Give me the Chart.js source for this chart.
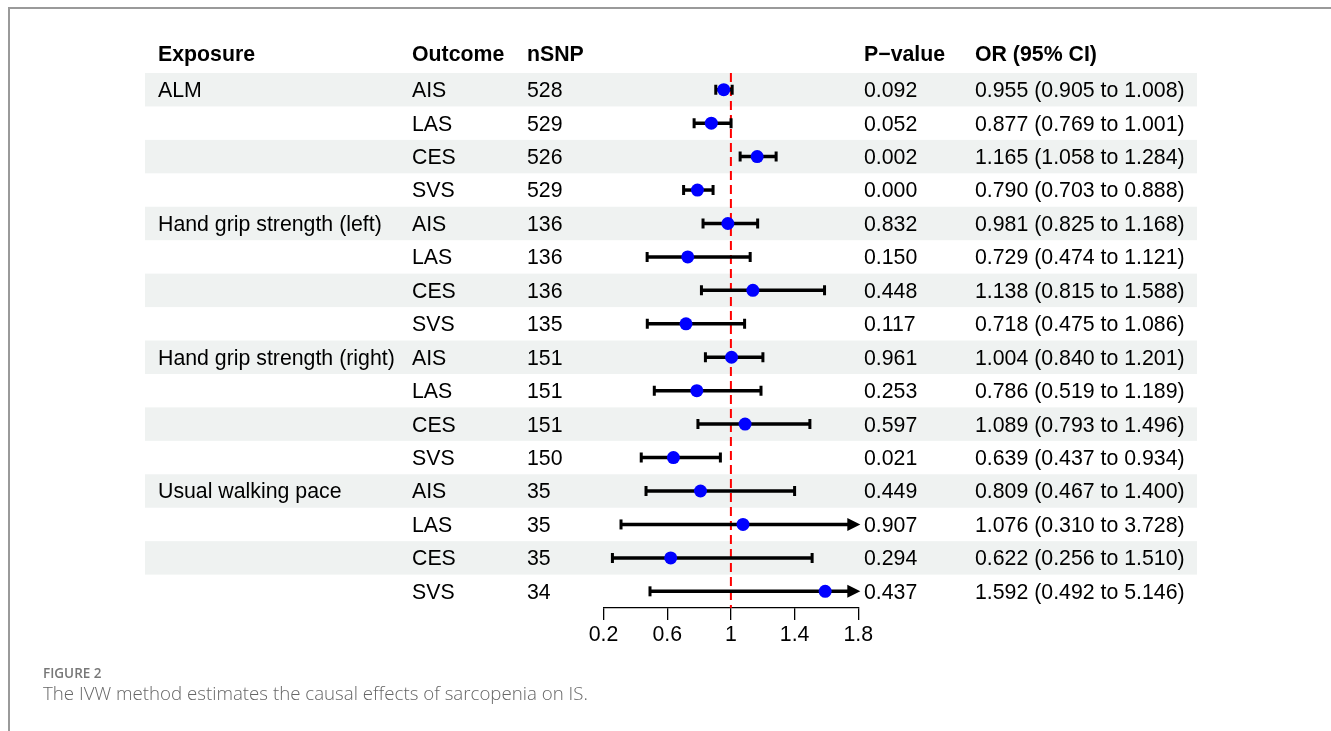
<!DOCTYPE html>
<html>
<head>
<meta charset="utf-8">
<title>IVW forest plot</title>
<script src="https://cdn.jsdelivr.net/npm/chart.js@4.4.1/dist/chart.umd.min.js"></script>
<style>
    html, body { margin: 0; padding: 0; background: #fff; }
    body { width: 1331px; height: 731px; position: relative; overflow: hidden; }
    #frame {
        position: absolute; left: 8px; top: 7px; right: -4px; bottom: -4px;
        border-top: 2px solid #9a9a9a; border-left: 2px solid #9a9a9a;
    }
    #forestChart { position: absolute; left: 0; top: 0; }
    .fig-label {
        position: absolute; left: 43px; top: 664px;
        font-family: "Open Sans", sans-serif; font-size: 13.5px; font-weight: 600; color: #777;
    }
    .fig-caption {
        position: absolute; left: 43px; top: 680px;
        font-family: "Open Sans", sans-serif; font-size: 18.7px; font-weight: 300; color: #666;
    }
</style>
</head>
<body>
<div id="frame"></div>
<canvas id="forestChart" width="1331" height="731"></canvas>
<div class="fig-label">FIGURE 2</div>
<div class="fig-caption">The IVW method estimates the causal effects of sarcopenia on IS.</div>

<script>
// Table columns
const headers = ['Exposure', 'Outcome', 'nSNP', 'P\u2212value', 'OR (95% CI)'];
const exposures = [
    'ALM', '', '', '',
    'Hand grip strength (left)', '', '', '',
    'Hand grip strength (right)', '', '', '',
    'Usual walking pace', '', '', ''
];
const outcomes = [
    'AIS', 'LAS', 'CES', 'SVS',
    'AIS', 'LAS', 'CES', 'SVS',
    'AIS', 'LAS', 'CES', 'SVS',
    'AIS', 'LAS', 'CES', 'SVS'
];
const nSNP = [528, 529, 526, 529, 136, 136, 136, 135, 151, 151, 151, 150, 35, 35, 35, 34];
const pValues = [
    '0.092', '0.052', '0.002', '0.000',
    '0.832', '0.150', '0.448', '0.117',
    '0.961', '0.253', '0.597', '0.021',
    '0.449', '0.907', '0.294', '0.437'
];

// Estimates
const orEst = [0.955, 0.877, 1.165, 0.790, 0.981, 0.729, 1.138, 0.718, 1.004, 0.786, 1.089, 0.639, 0.809, 1.076, 0.622, 1.592];
const ciLow = [0.905, 0.769, 1.058, 0.703, 0.825, 0.474, 0.815, 0.475, 0.840, 0.519, 0.793, 0.437, 0.467, 0.310, 0.256, 0.492];
const ciHigh = [1.008, 1.001, 1.284, 0.888, 1.168, 1.121, 1.588, 1.086, 1.201, 1.189, 1.496, 0.934, 1.400, 3.728, 1.510, 5.146];

// Axis
const xMin = 0.2;
const xMax = 1.8;
const refValue = 1;
const tickValues = [0.2, 0.6, 1, 1.4, 1.8];
const tickLabels = ['0.2', '0.6', '1', '1.4', '1.8'];

const FONT_FAMILY = '"Liberation Sans", Arial, Helvetica, sans-serif';
const FONT_SIZE = 21.3;

// Column x positions and row band extent
const colX = [158, 412, 527, 864, 975];
const bandLeft = 145;
const bandRight = 1197;

const orText = orEst.map((v, i) =>
    `${v.toFixed(3)} (${ciLow[i].toFixed(3)} to ${ciHigh[i].toFixed(3)})`);

/**
 * Draws the shaded rows and the text columns of the table around the plot.
 */
const tablePlugin = {
    id: 'forestTable',
    beforeDraw(chart) {
        const ctx = chart.ctx;
        const y = chart.scales.y;
        ctx.save();

        // alternating row shading
        ctx.fillStyle = '#eff2f1';
        for (let i = 0; i < outcomes.length; i += 2) {
            const top = y.getPixelForValue(i + 0.5);
            const bottom = y.getPixelForValue(i + 1.5);
            ctx.fillRect(bandLeft, top, bandRight - bandLeft, bottom - top);
        }

        ctx.fillStyle = '#000';
        ctx.textAlign = 'left';
        ctx.textBaseline = 'middle';

        // header
        ctx.font = `bold ${FONT_SIZE}px ${FONT_FAMILY}`;
        const headY = y.getPixelForValue(0) - 1;
        headers.forEach((h, c) => ctx.fillText(h, colX[c], headY));

        // body
        ctx.font = `${FONT_SIZE}px ${FONT_FAMILY}`;
        outcomes.forEach((o, i) => {
            const ry = y.getPixelForValue(i + 1) + 1.5;
            const cells = [exposures[i], o, String(nSNP[i]), pValues[i], orText[i]];
            cells.forEach((t, c) => {
                if (t) ctx.fillText(t, colX[c], ry);
            });
        });
        ctx.restore();
    },
    beforeDatasetsDraw(chart) {
        const ctx = chart.ctx;
        const x = chart.scales.x;
        const y = chart.scales.y;
        const area = chart.chartArea;
        ctx.save();

        // reference line at OR = 1
        const rx = x.getPixelForValue(refValue);
        ctx.strokeStyle = '#ff0000';
        ctx.lineWidth = 2;
        ctx.setLineDash([9, 5]);
        ctx.beginPath();
        ctx.moveTo(rx, area.top);
        ctx.lineTo(rx, area.bottom);
        ctx.stroke();
        ctx.setLineDash([]);

        // confidence intervals
        ctx.strokeStyle = '#000';
        ctx.fillStyle = '#000';
        orEst.forEach((v, i) => {
            const ry = y.getPixelForValue(i + 1);
            const clipped = ciHigh[i] > xMax;
            const xl = x.getPixelForValue(Math.max(ciLow[i], xMin));
            const xh = x.getPixelForValue(Math.min(ciHigh[i], xMax));
            ctx.lineWidth = 3.5;
            ctx.beginPath();
            ctx.moveTo(xl, ry);
            ctx.lineTo(clipped ? xh - 8 : xh, ry);
            ctx.stroke();

            ctx.lineWidth = 3;
            ctx.beginPath();
            ctx.moveTo(xl, ry - 5);
            ctx.lineTo(xl, ry + 5);
            if (!clipped) {
                ctx.moveTo(xh, ry - 5);
                ctx.lineTo(xh, ry + 5);
            }
            ctx.stroke();

            if (clipped) {
                // arrow head for intervals running past the axis
                ctx.beginPath();
                ctx.moveTo(xh + 2, ry);
                ctx.lineTo(xh - 11, ry - 6.5);
                ctx.lineTo(xh - 11, ry + 6.5);
                ctx.closePath();
                ctx.fill();
            }
        });
        ctx.restore();
    }
};

const ctx = document.getElementById('forestChart');
new Chart(ctx, {
    type: 'scatter',
    data: {
        datasets: [{
            label: 'OR',
            data: orEst.map((v, i) => ({ x: v, y: i + 1 })),
            backgroundColor: '#0000ff',
            borderWidth: 0,
            pointRadius: 6.5,
            pointHoverRadius: 6.5
        }]
    },
    options: {
        responsive: false,
        animation: false,
        events: [],
        layout: {
            padding: { left: 603.5, right: 472.7, top: 73, bottom: 81.4 }
        },
        plugins: {
            legend: { display: false },
            tooltip: { enabled: false }
        },
        scales: {
            x: {
                type: 'linear',
                position: 'bottom',
                min: xMin,
                max: xMax,
                afterBuildTicks: scale => {
                    scale.ticks = tickValues.map(v => ({ value: v }));
                },
                grid: {
                    display: true,
                    drawOnChartArea: false,
                    drawTicks: true,
                    tickLength: 12,
                    color: '#000',
                    lineWidth: 1.3
                },
                border: { display: true, color: '#000', width: 1.3 },
                ticks: {
                    autoSkip: false,
                    maxRotation: 0,
                    padding: 2,
                    color: '#000',
                    font: { family: FONT_FAMILY, size: FONT_SIZE },
                    callback: (value, index) => tickLabels[index]
                }
            },
            y: {
                type: 'linear',
                min: 0.5,
                max: outcomes.length + 0.5,
                reverse: true,
                display: false
            }
        }
    },
    plugins: [tablePlugin]
});
</script>
</body>
</html>
